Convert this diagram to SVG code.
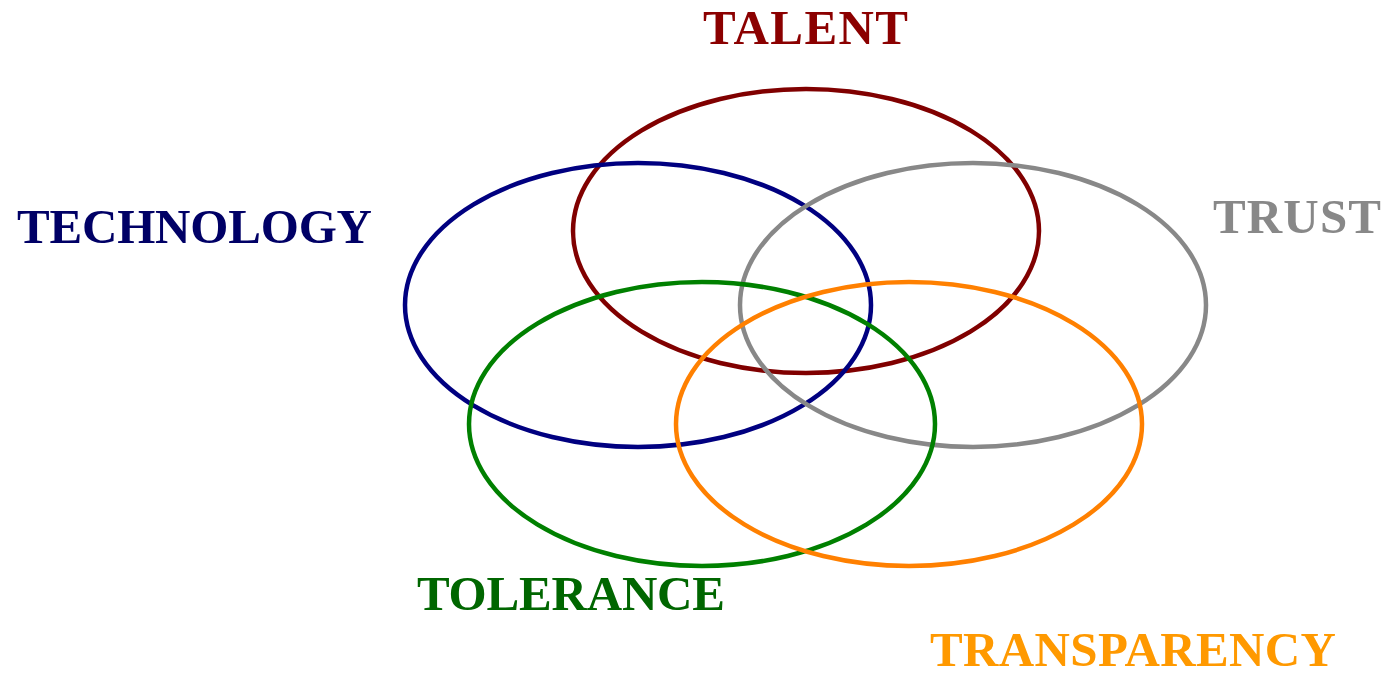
<svg xmlns="http://www.w3.org/2000/svg" width="1389" height="675" viewBox="0 0 1389 675">
<style>
.e{fill:none;stroke-width:4.5}
.t{font-family:"Liberation Serif","Times New Roman",serif;font-weight:bold;font-size:49px}
</style>
<rect width="1389" height="675" fill="#fff"/>
<g id="talent"><ellipse class="e" cx="806" cy="231" rx="233" ry="142" stroke="#800000"/><text class="t" x="703" y="44" textLength="205" lengthAdjust="spacing" fill="#8b0000">TALENT</text></g>
<g id="technology"><ellipse class="e" cx="638" cy="305" rx="233" ry="142" stroke="#000080"/><text class="t" x="17" y="243" textLength="355" lengthAdjust="spacing" fill="#000066">TECHNOLOGY</text></g>
<g id="trust"><ellipse class="e" cx="973" cy="305" rx="233" ry="142" stroke="#888888"/><text class="t" x="1213" y="233" textLength="168" lengthAdjust="spacing" fill="#888888">TRUST</text></g>
<g id="tolerance"><ellipse class="e" cx="702" cy="424" rx="233" ry="142" stroke="#008000"/><text class="t" x="417" y="610" textLength="308" lengthAdjust="spacing" fill="#006600">TOLERANCE</text></g>
<g id="transparency"><ellipse class="e" cx="909" cy="424" rx="233" ry="142" stroke="#ff8000"/><text class="t" x="930" y="666" textLength="406" lengthAdjust="spacing" fill="#ff9900">TRANSPARENCY</text></g>
<g id="connectors"/>
</svg>
